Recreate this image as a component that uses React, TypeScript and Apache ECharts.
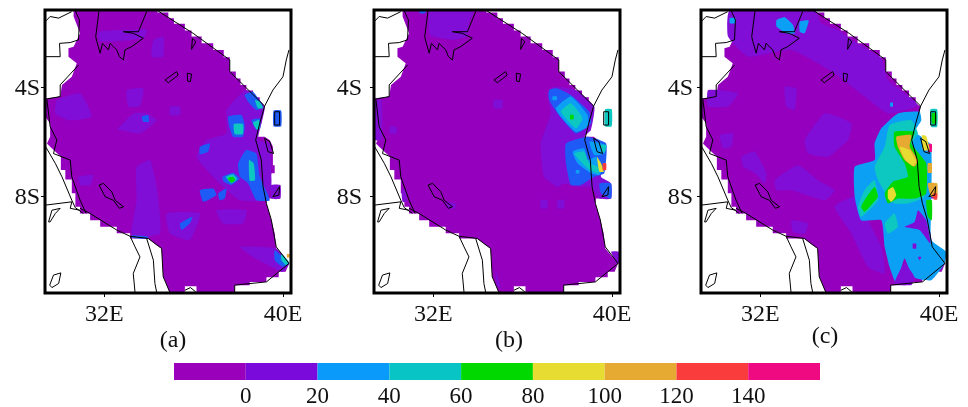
import React, { useEffect, useRef } from "react";
import * as echarts from "echarts";

type Pt = number[];
type Region = { level: number; points: Pt[] };

const levelEdges = [-20, 0, 20, 40, 60, 80, 100, 120, 140, 160];
const barColors = ["#9A00BC", "#7A0ADC", "#0A9BFA", "#08C4C4", "#00D800", "#E6DC32", "#E6AA32", "#FA3C3C", "#F00A82"];
const barTicks = [0, 20, 40, 60, 80, 100, 120, 140];
const lonTicks = [32, 40];
const latTicks = [-4, -8];
const panelCaptions = ["(a)", "(b)", "(c)"];

// level -> fill: 0 purple, 1 violet, 2 blue, 3 sky, 4 teal, 5 green, 6 yellow, 7 orange, 8 red, 9 magenta
const mapColors = ["#9400BE", "#800ED6", "#1E5AF5", "#0CA0F5", "#0CC8C0", "#00D800", "#E6DC32", "#E6AA32", "#FA3C3C", "#F00A82"];

const land: Pt[] = [
  [30.62,-1.15],[34.37,-1.15],[34.37,-1.24],[34.86,-1.24],[34.86,-1.45],[35.11,-1.45],[35.11,-1.66],[35.60,-1.66],[35.60,-1.91],[35.90,-1.91],[35.90,-2.13],[36.35,-2.13],[36.35,-2.38],[36.87,-2.38],[36.87,-2.62],[37.34,-2.62],[37.34,-2.89],[37.61,-2.89],[37.61,-3.42],[37.88,-3.42],[37.88,-3.67],[38.09,-3.67],[38.09,-3.91],[38.35,-3.91],[38.35,-4.12],[38.65,-4.12],[38.65,-4.37],[38.95,-4.37],[38.95,-4.62],[39.17,-4.69],
  [39.02,-5.33],[38.80,-5.70],[38.77,-5.82],[39.17,-5.82],[39.40,-5.95],[39.54,-6.19],[39.54,-6.87],[39.62,-6.87],[39.62,-7.17],[39.47,-7.17],[39.40,-7.60],[39.87,-7.60],[39.87,-8.10],[39.28,-8.10],[39.25,-8.28],[39.47,-8.90],[39.62,-9.39],[39.69,-9.94],[40.26,-10.49],[40.11,-10.80],[39.80,-10.80],[39.80,-11.00],[39.25,-11.00],[39.25,-11.17],[38.50,-11.17],[38.50,-11.29],[37.83,-11.29],[37.83,-11.58],
  [36.12,-11.58],[36.12,-11.33],[35.60,-11.33],[35.60,-11.58],[34.93,-11.58],[34.70,-11.10],[34.63,-10.98],[34.56,-9.94],[34.34,-9.82],[33.96,-9.57],[33.15,-9.57],[33.15,-9.38],[32.55,-9.38],[32.55,-9.14],[31.81,-9.14],[31.81,-8.90],[31.36,-8.90],[31.36,-8.65],[30.91,-8.65],[30.91,-8.40],[30.70,-8.40],[30.70,-7.90],[30.54,-7.90],[30.54,-7.40],[30.25,-7.40],[30.25,-7.05],[30.05,-7.05],[30.05,-6.56],[29.57,-6.19],[29.43,-6.07],[29.57,-5.82],[29.57,-5.33],[29.35,-5.08],[29.35,-4.41],[30.02,-4.34],[30.10,-3.91],[30.54,-3.61],[30.76,-3.11],[30.39,-2.87],[30.39,-2.56],[30.62,-2.50],[30.91,-2.01],[30.62,-1.39],
];

const borders: Pt[][] = [
  [[29.35,-1.58],[29.57,-1.39],[29.95,-1.45],[30.54,-1.21]],
  [[29.35,-2.87],[30.02,-2.87],[29.99,-2.38],[30.47,-2.35],[30.84,-2.25],[30.88,-1.52],[30.69,-1.17]],
  [[30.84,-3.18],[30.02,-3.91],[30.02,-4.34],[29.37,-4.44]],
  [[29.43,-4.47],[29.57,-5.45],[29.87,-5.94],[29.72,-6.44],[30.47,-6.68],[30.54,-7.30],[30.91,-8.16],[31.18,-8.65]],
  [[29.37,-6.19],[29.80,-6.80],[30.10,-7.30],[30.54,-8.16],[30.69,-8.43],[31.06,-8.65]],
  [[29.37,-8.34],[30.54,-8.22],[30.47,-8.46],[30.91,-8.53]],
  [[29.50,-8.96],[29.65,-8.53],[30.02,-8.46],[29.80,-8.65],[29.57,-8.96],[29.50,-8.96]],
  [[31.76,-7.60],[31.96,-7.54],[32.33,-7.85],[32.48,-8.16],[32.85,-8.40],[32.67,-8.46],[32.40,-8.16],[32.03,-8.03],[31.76,-7.60]],
  [[33.15,-9.49],[33.37,-9.88],[33.59,-10.25],[33.29,-10.86],[33.37,-11.56]],
  [[33.89,-9.57],[34.19,-10.37],[34.26,-11.23],[34.34,-11.56]],
  [[30.91,-8.46],[31.36,-8.65],[32.55,-9.26],[33.15,-9.49],[33.96,-9.57],[34.56,-9.94],[34.63,-10.98],[34.93,-11.56]],
  [[31.76,-1.17],[31.61,-2.13],[31.66,-2.31],[31.81,-2.74],[31.91,-2.38],[32.18,-2.62],[32.25,-2.38],[32.55,-2.62],[32.67,-2.87],[32.85,-2.99],[32.92,-2.62],[33.22,-2.50],[33.74,-2.19],[33.29,-2.01],[32.85,-1.95],[33.52,-1.95],[33.89,-1.21]],
  [[34.71,-3.73],[35.23,-3.42],[35.30,-3.55],[34.86,-3.83],[34.71,-3.73]],
  [[35.71,-3.48],[35.90,-3.51],[35.85,-3.79],[35.72,-3.77],[35.71,-3.48]],
  [[35.94,-2.19],[35.90,-2.60],[36.09,-2.32],[35.94,-2.19]],
  [[34.37,-1.17],[35.97,-2.01],[37.61,-2.99],[37.61,-3.42],[39.17,-4.69]],
  [[39.17,-4.69],[39.54,-4.10],[39.99,-3.61],[40.14,-2.99],[40.26,-2.62]],
  [[39.17,-4.69],[38.95,-5.33],[38.77,-5.94],[39.02,-6.68],[39.10,-7.66],[39.25,-8.28],[39.47,-8.89],[39.69,-9.88],[40.26,-10.49]],
  [[40.26,-10.49],[39.25,-11.17],[37.83,-11.29],[37.83,-11.56]],
  [[39.62,-4.90],[39.84,-4.90],[39.84,-5.39],[39.62,-5.39],[39.62,-4.90]],
  [[39.17,-5.88],[39.40,-6.00],[39.57,-6.44],[39.32,-6.37],[39.17,-5.88]],
  [[39.54,-8.03],[39.84,-7.66],[39.81,-7.97],[39.54,-8.03]],
  [[29.55,-11.29],[29.72,-10.92],[30.05,-10.84],[29.95,-11.23],[29.65,-11.38],[29.55,-11.29]],
  [[35.60,-11.48],[35.85,-11.38],[36.09,-11.54]],
];

const regionsA: Region[] = [
  { level: 1, points: [[33.44,-6.93],[34.04,-6.68],[34.34,-7.67],[34.49,-9.39],[33.22,-9.45],[33.44,-8.16]] },
  { level: 1, points: [[37.46,-4.84],[38.35,-4.10],[39.17,-4.71],[38.87,-5.94],[39.40,-6.07],[39.47,-7.67],[39.25,-8.16],[38.06,-8.16],[37.01,-7.42],[36.12,-6.56],[36.57,-5.94],[37.46,-5.70]] },
  { level: 1, points: [[29.87,-4.47],[30.91,-4.22],[31.43,-5.08],[30.39,-5.21],[29.80,-4.96]] },
  { level: 1, points: [[32.55,-5.57],[33.29,-4.96],[33.89,-4.96],[34.34,-5.21],[33.59,-5.70],[32.70,-5.57]] },
  { level: 1, points: [[33.0,-4.10],[33.74,-4.04],[33.59,-4.71],[33.07,-4.71]] },
  { level: 1, points: [[39.69,-9.94],[40.26,-10.49],[39.99,-10.80],[38.65,-10.25],[38.06,-9.88]] },
  { level: 1, points: [[34.78,-8.65],[36.27,-8.65],[35.82,-9.63],[34.93,-9.39]] },
  { level: 1, points: [[37.01,-8.53],[38.35,-8.53],[38.20,-9.02],[37.31,-9.02]] },
  { level: 1, points: [[30.84,-7.30],[31.51,-7.23],[31.36,-7.60],[30.91,-7.60]] },
  { level: 1, points: [[34.19,-2.25],[34.63,-2.13],[34.63,-2.87],[34.11,-2.87]] },
  { level: 1, points: [[34.93,-4.71],[35.38,-4.71],[35.38,-5.02],[34.93,-5.02]] },
  { level: 1, points: [[39.47,-7.60],[39.87,-7.60],[39.87,-8.10],[39.47,-8.10]] },
  { level: 1, points: [[31.73,-1.95],[33.89,-1.88],[33.74,-2.19],[31.81,-2.31]] },
  { level: 2, points: [[37.54,-5.08],[38.13,-5.02],[38.28,-5.39],[38.20,-5.82],[37.76,-5.82],[37.61,-5.51]] },
  { level: 2, points: [[38.28,-4.28],[38.65,-4.16],[39.10,-4.71],[38.80,-4.84],[38.43,-4.53]] },
  { level: 2, points: [[38.58,-5.21],[38.95,-5.14],[38.98,-5.51],[38.80,-5.57]] },
  { level: 2, points: [[37.98,-6.80],[38.35,-6.31],[38.80,-6.44],[38.95,-7.30],[39.40,-8.16],[38.80,-8.16],[38.43,-7.54],[38.06,-7.30]] },
  { level: 2, points: [[37.28,-7.30],[37.76,-7.15],[38.06,-7.36],[37.68,-7.60],[37.34,-7.48]] },
  { level: 2, points: [[36.27,-7.79],[36.87,-7.73],[37.01,-7.97],[36.42,-8.22]] },
  { level: 2, points: [[37.09,-7.91],[37.46,-7.73],[37.39,-8.10],[37.16,-8.16]] },
  { level: 2, points: [[35.38,-9.02],[35.94,-8.77],[35.82,-9.02],[35.45,-9.26]] },
  { level: 2, points: [[36.27,-6.19],[36.72,-6.07],[36.64,-6.37],[36.27,-6.46]] },
  { level: 2, points: [[33.67,-5.08],[33.96,-5.02],[33.99,-5.27],[33.74,-5.27]] },
  { level: 2, points: [[39.62,-10.0],[40.26,-10.49],[39.99,-10.62],[39.62,-10.37]] },
  { level: 2, points: [[39.57,-4.86],[39.91,-4.86],[39.91,-5.43],[39.57,-5.43]] },
  { level: 2, points: [[33.22,-9.45],[33.96,-9.50],[33.96,-9.58],[33.22,-9.55]] },
  { level: 4, points: [[37.79,-5.35],[38.20,-5.35],[38.20,-5.72],[37.83,-5.72]] },
  { level: 4, points: [[38.74,-4.47],[38.95,-4.53],[39.10,-4.77],[38.87,-4.77]] },
  { level: 4, points: [[38.65,-5.30],[38.92,-5.21],[38.95,-5.51],[38.80,-5.55]] },
  { level: 4, points: [[38.47,-6.68],[38.68,-6.80],[38.74,-7.42],[38.50,-7.44]] },
  { level: 4, points: [[37.43,-7.30],[37.76,-7.20],[37.94,-7.38],[37.68,-7.54]] },
  { level: 4, points: [[39.92,-10.13],[40.26,-10.43],[40.14,-10.56],[39.92,-10.37]] },
  { level: 5, points: [[37.52,-7.35],[37.76,-7.30],[37.85,-7.42],[37.68,-7.51]] },
  { level: 7, points: [[40.17,-10.15],[40.29,-10.15],[40.29,-10.27],[40.17,-10.27]] },
];

const regionsB: Region[] = [
  { level: 1, points: [[31.85,-1.15],[33.80,-1.15],[33.58,-1.64],[33.50,-2.13],[32.90,-2.25],[31.85,-2.07]] },
  { level: 2, points: [[31.33,-1.15],[31.70,-1.15],[31.63,-1.27],[31.40,-1.27]] },
  { level: 1, points: [[37.10,-4.22],[37.40,-3.98],[38.38,-4.10],[39.20,-4.71],[39.05,-5.57],[38.75,-5.82],[39.65,-6.07],[39.50,-7.30],[39.95,-7.54],[39.95,-8.10],[39.43,-8.10],[39.05,-7.67],[38.53,-7.67],[37.85,-7.54],[37.55,-7.67],[36.95,-7.30],[36.80,-6.07],[37.25,-4.96]] },
  { level: 1, points: [[36.80,-8.16],[37.10,-8.16],[37.10,-8.46],[36.80,-8.46]] },
  { level: 1, points: [[37.55,-8.16],[37.85,-8.16],[37.85,-8.46],[37.55,-8.46]] },
  { level: 1, points: [[34.70,-4.47],[35.08,-4.47],[35.08,-4.77],[34.70,-4.77]] },
  { level: 1, points: [[30.05,-5.45],[30.35,-5.45],[30.35,-5.70],[30.05,-5.70]] },
  { level: 1, points: [[34.78,-10.74],[35.0,-11.36],[34.85,-11.36]] },
  { level: 1, points: [[30.58,-7.79],[30.80,-7.79],[30.80,-8.22],[30.62,-8.22]] },
  { level: 1, points: [[32.60,-8.22],[32.98,-8.28],[32.98,-8.46],[32.60,-8.46]] },
  { level: 1, points: [[39.95,-10.06],[40.30,-10.06],[40.30,-10.49],[40.19,-10.49]] },
  { level: 1, points: [[29.38,-4.47],[29.68,-4.47],[29.68,-5.94],[29.38,-5.94]] },
  { level: 2, points: [[37.18,-4.10],[37.55,-4.04],[38.15,-4.28],[38.98,-4.90],[39.05,-5.33],[38.38,-5.70],[37.55,-4.96],[37.18,-4.47]] },
  { level: 2, points: [[37.93,-6.07],[38.90,-5.82],[39.73,-6.07],[39.65,-7.17],[39.20,-7.30],[38.60,-7.60],[38.15,-7.60],[37.93,-6.80]] },
  { level: 2, points: [[39.43,-7.54],[39.95,-7.54],[39.95,-8.10],[39.50,-7.91]] },
  { level: 3, points: [[37.48,-4.77],[38.15,-4.34],[38.90,-5.02],[38.90,-5.45],[38.38,-5.64],[37.70,-5.08]] },
  { level: 3, points: [[37.33,-4.34],[37.52,-4.34],[37.52,-4.47],[37.33,-4.47]] },
  { level: 3, points: [[38.23,-6.37],[38.75,-6.25],[38.90,-6.68],[39.28,-6.56],[39.58,-6.93],[39.43,-7.23],[39.05,-7.17],[38.45,-6.80]] },
  { level: 3, points: [[38.98,-6.00],[39.73,-6.13],[39.65,-6.44],[39.20,-6.50]] },
  { level: 3, points: [[38.38,-7.05],[38.53,-7.05],[38.53,-7.17],[38.38,-7.17]] },
  { level: 4, points: [[37.70,-4.90],[38.15,-4.59],[38.68,-5.14],[38.38,-5.51]] },
  { level: 5, points: [[38.12,-5.02],[38.27,-5.02],[38.27,-5.18],[38.12,-5.18]] },
  { level: 4, points: [[38.30,-6.44],[38.75,-6.37],[38.98,-6.80],[39.50,-6.98],[39.35,-7.17],[38.90,-6.99]] },
  { level: 4, points: [[39.50,-6.13],[39.73,-6.13],[39.68,-6.37],[39.53,-6.37]] },
  { level: 6, points: [[39.32,-6.56],[39.50,-6.80],[39.62,-7.11],[39.43,-7.11]] },
  { level: 8, points: [[39.58,-6.80],[39.73,-6.80],[39.73,-7.05],[39.58,-7.05]] },
  { level: 4, points: [[39.68,-4.81],[39.98,-4.81],[39.98,-5.43],[39.68,-5.43]] },
];

const regionsC: Region[] = [
  { level: 1, points: [[30.63,-1.15],[34.43,-1.15],[34.73,-1.64],[35.47,-1.88],[36.07,-2.25],[37.41,-2.93],[37.71,-3.73],[39.05,-4.65],[37.71,-4.96],[36.66,-4.34],[35.32,-3.48],[33.39,-2.62],[31.45,-2.87],[30.55,-2.13]] },
  { level: 1, points: [[29.66,-4.10],[31.0,-4.22],[30.55,-4.71],[29.66,-4.71]] },
  { level: 1, points: [[31.15,-6.56],[31.75,-6.37],[32.27,-7.17],[32.19,-7.54],[31.75,-7.17],[31.23,-6.93]] },
  { level: 1, points: [[30.18,-5.76],[30.78,-5.70],[30.70,-6.19],[30.33,-6.25]] },
  { level: 1, points: [[33.98,-5.94],[34.88,-4.96],[36.07,-5.33],[35.92,-5.94],[35.02,-6.56],[34.13,-6.44]] },
  { level: 1, points: [[32.64,-7.42],[33.68,-6.87],[34.58,-7.42],[35.32,-7.79],[34.88,-8.16],[33.39,-7.79],[32.72,-7.79]] },
  { level: 1, points: [[33.39,-8.90],[34.13,-9.02],[33.98,-9.39],[33.46,-9.33]] },
  { level: 1, points: [[33.09,-3.98],[33.61,-4.04],[33.53,-4.84],[33.16,-4.71]] },
  { level: 1, points: [[35.32,-8.40],[36.22,-8.03],[36.81,-8.90],[37.41,-9.88],[37.56,-10.86],[36.81,-10.62],[36.07,-9.39]] },
  { level: 3, points: [[37.41,-5.51],[38.15,-4.96],[39.12,-4.90],[39.20,-5.21],[38.90,-5.64],[39.20,-5.82],[39.64,-6.13],[39.64,-8.65],[39.64,-9.63],[40.31,-10.06],[40.24,-10.49],[39.64,-11.11],[38.82,-10.99],[38.45,-10.31],[38.08,-11.23],[37.78,-10.62],[37.56,-9.88],[37.41,-8.90],[36.51,-8.90],[36.22,-8.03],[36.22,-6.93],[37.11,-6.68],[37.11,-6.07]] },
  { level: 1, points: [[39.05,-8.53],[39.42,-8.90],[39.61,-9.76],[39.12,-9.26],[38.45,-9.14],[38.90,-8.96]] },
  { level: 1, points: [[38.82,-9.76],[38.97,-9.76],[38.97,-9.94],[38.82,-9.94]] },
  { level: 1, points: [[39.05,-10.25],[39.20,-10.25],[39.12,-10.37]] },
  { level: 1, points: [[38.0,-11.23],[38.45,-10.49],[38.90,-10.99],[38.75,-11.29]] },
  { level: 4, points: [[37.78,-5.39],[38.75,-5.21],[39.05,-5.70],[38.75,-6.07],[39.20,-6.56],[39.20,-7.17],[39.35,-8.03],[38.60,-8.28],[38.0,-8.28],[37.71,-8.03],[37.26,-7.42],[37.11,-6.93],[37.56,-6.19]] },
  { level: 4, points: [[36.66,-7.79],[37.11,-7.42],[37.26,-8.16],[36.51,-8.77],[36.37,-8.40]] },
  { level: 4, points: [[37.56,-9.02],[38.0,-8.65],[38.15,-9.14],[37.71,-9.39]] },
  { level: 5, points: [[38.0,-5.64],[38.90,-5.64],[38.75,-6.07],[39.42,-6.80],[39.42,-7.91],[38.90,-8.10],[38.15,-8.10],[37.71,-8.28],[37.56,-7.91],[37.93,-7.48],[38.60,-7.30],[38.45,-6.80],[38.0,-6.19]] },
  { level: 5, points: [[36.74,-8.05],[37.11,-7.67],[37.26,-8.03],[36.66,-8.59],[36.51,-8.40]] },
  { level: 5, points: [[39.42,-8.16],[39.67,-8.16],[39.67,-8.90],[39.49,-8.77]] },
  { level: 7, points: [[38.08,-5.82],[38.75,-5.76],[38.68,-6.19],[39.05,-6.68],[38.90,-6.93],[38.45,-6.68],[38.15,-6.19]] },
  { level: 6, points: [[38.23,-6.19],[38.68,-6.31],[38.97,-6.74],[38.82,-6.90],[38.45,-6.62]] },
  { level: 6, points: [[37.71,-7.79],[37.93,-7.67],[38.08,-7.97],[37.86,-8.22],[37.71,-8.10]] },
  { level: 7, points: [[39.49,-6.80],[39.67,-6.80],[39.67,-7.15],[39.49,-7.15]] },
  { level: 7, points: [[39.49,-7.54],[39.91,-7.54],[39.91,-8.03],[39.64,-8.03]] },
  { level: 9, points: [[39.49,-6.09],[39.67,-6.09],[39.67,-6.37],[39.49,-6.37]] },
  { level: 8, points: [[39.72,-7.91],[39.91,-7.91],[39.91,-8.13],[39.76,-8.13]] },
  { level: 6, points: [[39.23,-5.76],[39.42,-5.80],[39.57,-6.31],[39.27,-6.31]] },
  { level: 4, points: [[39.61,-4.81],[39.91,-4.81],[39.91,-5.45],[39.64,-5.45]] },
  { level: 5, points: [[39.67,-4.96],[39.87,-4.96],[39.87,-5.33],[39.69,-5.33]] },
  { level: 3, points: [[32.72,-1.52],[33.09,-1.42],[33.46,-1.70],[33.53,-2.01],[33.16,-2.01],[32.72,-1.76]] },
  { level: 3, points: [[33.76,-1.58],[34.16,-1.54],[33.98,-2.01],[33.76,-1.95]] },
  { level: 3, points: [[30.63,-1.45],[30.88,-1.45],[30.88,-1.64],[30.63,-1.64]] },
  { level: 3, points: [[37.81,-4.57],[37.93,-4.57],[37.93,-4.71],[37.81,-4.71]] },
];

const panelRegions = [regionsA, regionsB, regionsC];
const panelLeft = [45, 374, 701];
const panelWidth = 246;
const latLabelMargin = [5, 12, 8];
const fontFamily = "'Liberation Serif', 'Times New Roman', serif";

function App() {
  const ref = useRef<HTMLDivElement>(null);
  useEffect(() => {
    const chart = echarts.init(ref.current!, undefined, { renderer: "svg" });
    const grids: any[] = panelLeft.map((left) => ({
      left, width: panelWidth, top: 10, height: 283, show: true, borderColor: "#000", borderWidth: 3, backgroundColor: "transparent", z: 10,
    }));
    grids.push({ left: 174, width: 646, top: 363, height: 19, show: false });
    const xAxes: any[] = panelLeft.map((_, i) => ({
      type: "value", gridIndex: i, min: 29.34, max: 40.35, splitLine: { show: false }, axisLine: { show: false },
      axisTick: { show: true, customValues: lonTicks, length: 4, lineStyle: { color: "#000" } },
      axisLabel: { customValues: lonTicks, margin: 8, color: "#111", fontFamily, fontSize: 24, formatter: (v: number) => `${v}E` },
    }));
    const yAxes: any[] = panelLeft.map((_, i) => ({
      type: "value", gridIndex: i, min: -11.58, max: -1.15, splitLine: { show: false }, axisLine: { show: false },
      axisTick: { show: true, customValues: latTicks, length: 4, lineStyle: { color: "#000" } },
      axisLabel: { customValues: latTicks, margin: latLabelMargin[i], color: "#111", fontFamily, fontSize: 24, formatter: (v: number) => `${-v}S` },
    }));
    xAxes.push({
      type: "value", gridIndex: 3, min: -20, max: 160, splitLine: { show: false }, axisLine: { show: false }, axisTick: { show: false },
      axisLabel: { customValues: barTicks, margin: 4, color: "#111", fontFamily, fontSize: 23 },
    });
    yAxes.push({ type: "value", gridIndex: 3, min: 0, max: 1, show: false });

    const series: any[] = [];
    panelRegions.forEach((regions, i) => {
      series.push({
        type: "custom", xAxisIndex: i, yAxisIndex: i, clip: true, silent: true, z: 2,
        data: [land[0]],
        renderItem: (_: any, api: any) => ({
          type: "polygon",
          shape: { points: land.map((p) => api.coord(p)) },
          style: { fill: mapColors[0] },
        }),
      });
      series.push({
        type: "custom", xAxisIndex: i, yAxisIndex: i, clip: true, silent: true, z: 3,
        data: regions.map((r) => r.points[0]),
        renderItem: (p: any, api: any) => {
          const r = regions[p.dataIndex];
          return {
            type: "polygon",
            shape: { points: r.points.map((q) => api.coord(q)), smooth: 0.15 },
            style: { fill: mapColors[r.level] },
          };
        },
      });
      series.push({
        type: "custom", xAxisIndex: i, yAxisIndex: i, clip: true, silent: true, z: 4,
        data: borders.map((b) => b[0]),
        renderItem: (p: any, api: any) => ({
          type: "polyline",
          shape: { points: borders[p.dataIndex].map((q) => api.coord(q)) },
          style: { stroke: "#000", lineWidth: 1, fill: "none" },
        }),
      });
    });
    series.push({
      type: "custom", xAxisIndex: 3, yAxisIndex: 3, silent: true,
      data: barColors.map((_, i) => [levelEdges[i], levelEdges[i + 1]]),
      renderItem: (p: any, api: any) => {
        const a = api.coord([api.value(0), 1]);
        const b = api.coord([api.value(1), 0]);
        return { type: "rect", shape: { x: a[0], y: a[1], width: b[0] - a[0], height: b[1] - a[1] }, style: { fill: barColors[p.dataIndex] } };
      },
    });
    const captionPos = [[173, 339], [509, 339], [825, 335]];
    chart.setOption({
      animation: false,
      backgroundColor: "#fff",
      grid: grids,
      xAxis: xAxes,
      yAxis: yAxes,
      series,
      graphic: panelCaptions.map((text, i) => ({
        type: "text", x: captionPos[i][0], y: captionPos[i][1],
        style: { text, fontFamily, fontSize: 24, fill: "#111", textAlign: "center", textVerticalAlign: "middle" },
      })),
    });
    return () => chart.dispose();
  }, []);
  return <div ref={ref} style={{ position: "absolute", left: 0, top: 0, width: 968, height: 407, filter: "blur(0.5px)" }} />;
}

export default App;
